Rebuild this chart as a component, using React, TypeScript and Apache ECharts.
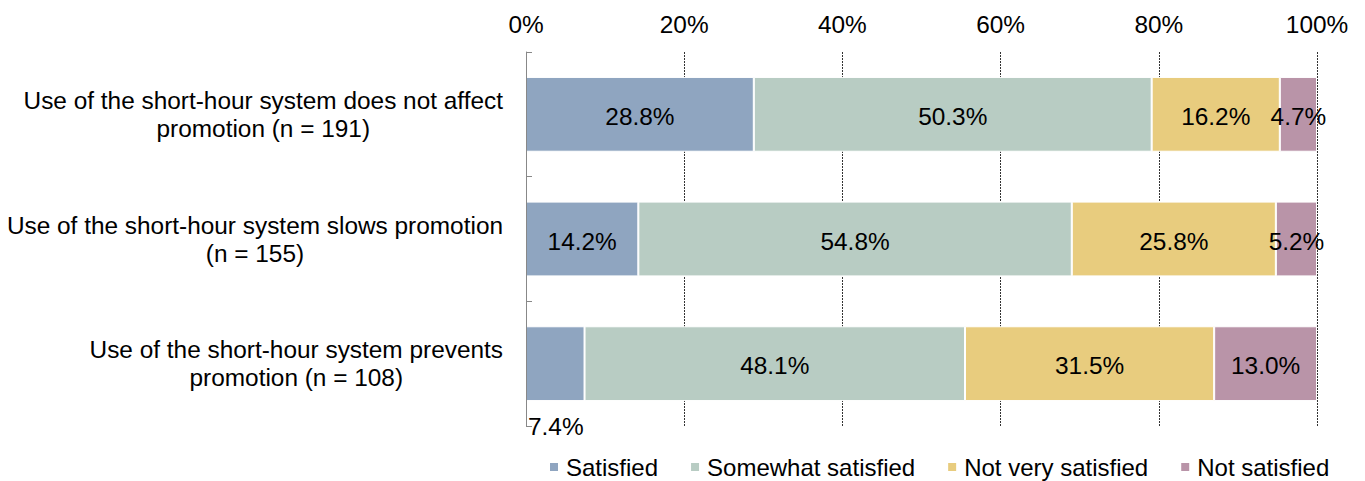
import React, { useEffect, useRef } from "react";
import * as echarts from "echarts";

const categories = [
  "Use of the short-hour system does not affect\npromotion (n = 191)",
  "Use of the short-hour system slows promotion\n(n = 155)",
  "Use of the short-hour system prevents\npromotion (n = 108)",
];
const seriesNames = ["Satisfied", "Somewhat satisfied", "Not very satisfied", "Not satisfied"];
const satisfied = [28.8, 14.2, 7.4];
const somewhatSatisfied = [50.3, 54.8, 48.1];
const notVerySatisfied = [16.2, 25.8, 31.5];
const notSatisfied = [4.7, 5.2, 13.0];
const colors = ["#8fa5c0", "#b8ccc3", "#e8cc7e", "#b994a8"];
const xTicks = [0, 20, 40, 60, 80, 100];

const FONT = "Liberation Sans, Arial, sans-serif";
const FS = 24.4;

export default function App() {
  const ref = useRef<HTMLDivElement>(null);

  useEffect(() => {
    document.body.style.margin = "0";
    const chart = echarts.init(ref.current!, null, { renderer: "svg" });
    const values = [satisfied, somewhatSatisfied, notVerySatisfied, notSatisfied];

    const series = values.map((vals, si) => ({
      name: seriesNames[si],
      type: "bar",
      stack: "total",
      barWidth: "60%",
      itemStyle: { color: colors[si], borderColor: "#ffffff", borderWidth: 1 },
      label: {
        show: true,
        position: "inside",
        offset: [0, 2],
        color: "#000",
        fontFamily: FONT,
        fontSize: FS,
        formatter: (p: any) => `${Number(p.value).toFixed(1)}%`,
      },
      data: vals.map((v) =>
        // the narrow "Satisfied" segment of the last row carries its label underneath
        si === 0 && v < 10
          ? { value: v, label: { position: [2, 86] } }
          : v
      ),
    }));

    chart.setOption({
      animation: false,
      backgroundColor: "#ffffff",
      textStyle: { fontFamily: FONT },
      grid: { left: 526, right: 48, top: 52, bottom: 55, containLabel: false },
      legend: {
        data: seriesNames,
        left: 548,
        top: 455,
        padding: 0,
        icon: "rect",
        itemWidth: 10,
        itemHeight: 10,
        itemGap: 31,
        textStyle: { fontFamily: FONT, fontSize: 24, color: "#000", padding: [0, 0, 0, 2] },
      },
      xAxis: {
        type: "value",
        position: "top",
        min: xTicks[0],
        max: xTicks[xTicks.length - 1],
        interval: 20,
        axisLine: { show: false },
        axisTick: { show: false },
        axisLabel: {
          color: "#000",
          fontFamily: FONT,
          fontSize: FS,
          margin: 16,
          formatter: (v: number) => `${v}%`,
        },
        splitLine: { show: true, lineStyle: { color: "#333", width: 1, type: [2, 1] } },
      },
      yAxis: {
        type: "category",
        inverse: true,
        data: categories,
        axisLine: { show: true, lineStyle: { color: "#888", width: 1 } },
        axisTick: { show: true, inside: true, length: 6, lineStyle: { color: "#888" } },
        axisLabel: {
          margin: 23,
          color: "#000",
          fontFamily: FONT,
          fontSize: FS,
          formatter: (v: string) => v.split("\n").map((l) => `{c|${l}}`).join("\n"),
          rich: { c: { align: "center", fontFamily: FONT, fontSize: FS, lineHeight: 28, color: "#000" } },
        },
        z: 3,
      },
      series,
    });

    return () => chart.dispose();
  }, []);

  return <div ref={ref} style={{ width: 1365, height: 481 }} />;
}
